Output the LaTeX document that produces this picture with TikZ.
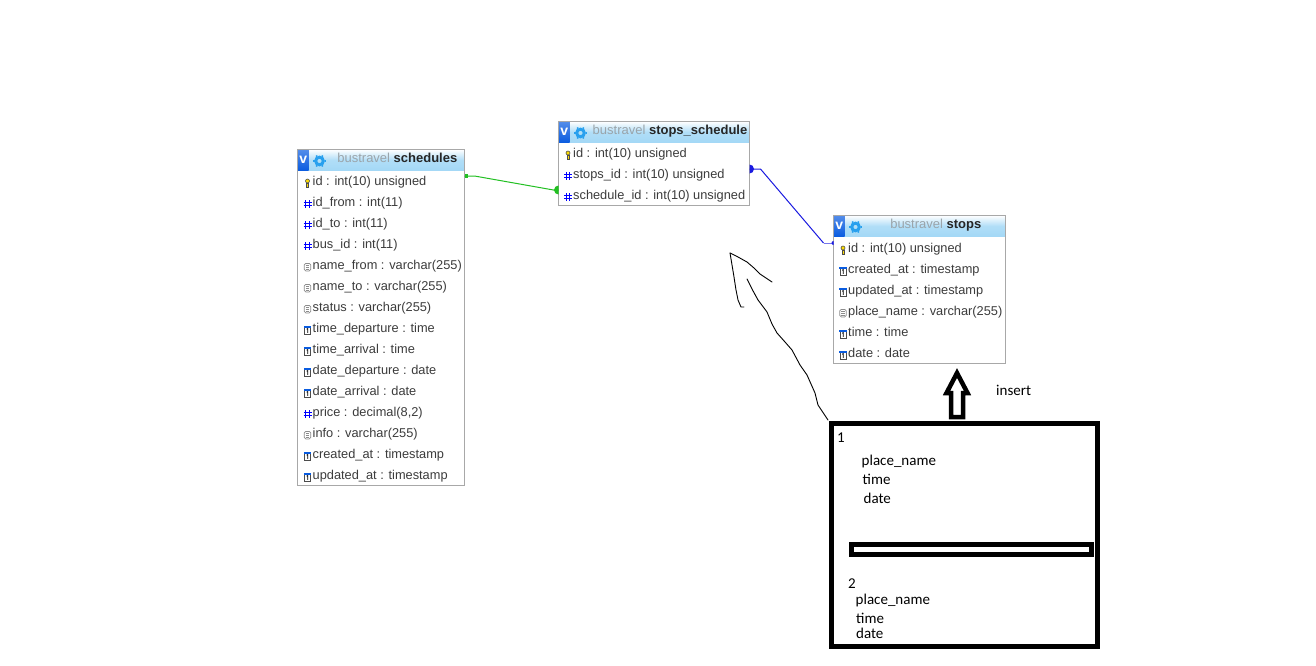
\documentclass[tikz,border=0pt]{standalone}
\usepackage{fontspec}
\setmainfont{Liberation Sans}
\newfontfamily\handfont{Carlito}
\usetikzlibrary{arrows.meta}
\definecolor{tblborder}{HTML}{A8A8A8}
\definecolor{rowtext}{HTML}{3C3C3C}
\definecolor{headgrey}{HTML}{9AA4AA}
\definecolor{headblue}{HTML}{A3D8F6}
\definecolor{iconblue}{HTML}{0A5CE0}
\definecolor{gearblue}{HTML}{28A0EE}
\definecolor{linkgreen}{HTML}{22C022}
\definecolor{linkblue}{HTML}{1A1AE0}
\tikzset{
  x=1pt,y=-1pt,
  tablebox/.style={draw=tblborder,line width=1pt,fill=white,minimum width=#1,inner sep=0pt,outer sep=0pt},
  rowlabel/.style={anchor=base west,inner sep=0pt,font=\fontsize{12.8}{12.8}\selectfont,text=rowtext},
  headlabel/.style={anchor=base east,inner sep=0pt,font=\fontsize{13}{13}\selectfont,text=black!85},
  handlabel/.style={anchor=base west,inner sep=0pt,font=\handfont\fontsize{15}{15}\selectfont,text=black},
  scrawl/.style={draw=black,line width=0.9pt,line join=round,line cap=round},
  thickbox/.style={draw=black,line width=5pt,fill=none},
  pics/hashicon/.style={code={
    \draw[blue,line width=1.1pt] (-1.7,-4)--(-1.7,4) (1.7,-4)--(1.7,4) (-4,-1.7)--(4,-1.7) (-4,1.7)--(4,1.7);}},
  pics/keyicon/.style={code={
    \draw[black!70,fill=yellow!80!orange,line width=0.6pt] (0,-2) circle (2);
    \draw[black!70,fill=yellow!80!orange,line width=0.6pt] (-1,0) rectangle (1,4);}},
  pics/texticon/.style={code={
    \draw[gray!90,line width=0.7pt,rounded corners=1.5pt,fill=white] (-3.2,-3.6) rectangle (3.2,4);
    \draw[gray!90,line width=0.5pt] (-1.6,-1.6)--(1.6,-1.6) (-1.6,0.2)--(1.6,0.2) (-1.6,2)--(1.6,2);}},
  pics/timeicon/.style={code={
    \draw[black!70,line width=0.6pt,fill=white] (-3.2,-3.4) rectangle (3.2,4);
    \fill[iconblue] (-3.6,-4) rectangle (3.6,-2.2);
    \draw[black,line width=0.8pt] (-0.8,-0.8)--(0.2,-1.4)--(0.2,2.8);}},
  pics/gearicon/.style={code={
    \draw[gearblue,line width=3pt] (0,0) circle (3.8);
    \foreach \a in {0,60,...,300}{\draw[gearblue,line width=1.6pt] (\a:5)--(\a:6.4);}}}
}
% #1 name, #2 left, #3 top, #4 right, #5 bottom, #6 header right, #7 table
\newcommand{\dbtable}[7]{
  \node[tablebox=#4pt-#2pt,minimum height=#5pt-#3pt,anchor=north west] (#1) at (#2,#3) {};
  \shade[top color=white,bottom color=headblue,middle color=headblue!85] (#2,#3) rectangle (#4,#3+21);
  \shade[top color=iconblue!70,bottom color=iconblue] (#2,#3) rectangle (#2+11,#3+21);
  \node[inner sep=0pt,text=white,font=\bfseries\fontsize{14}{14}\selectfont] (#1v) at (#2+5.8,#3+10.5) {v};
  \pic at (#2+22,#3+11.5) {gearicon};
  \node[headlabel] (#1h) at (#6,#3+13) {\textcolor{headgrey}{bustravel} \textbf{#7}};
  \draw[tblborder,line width=1pt] (#1.north west) rectangle (#1.south east);
}
% #1 icon, #2 x icon, #3 y, #4 text
\newcommand{\dbrow}[4]{
  \pic at (#2,#3+2) {#1};
  \node[rowlabel] at (#2+5,#3+4.5) {#4};
}
\begin{document}
\begin{tikzpicture}
\useasboundingbox (0,0) rectangle (1316,666);
\fill[white] (0,0) rectangle (1316,666);

% schedules
\dbtable{sch}{297.5}{149.5}{464.5}{485.5}{457.5}{schedules}
\dbrow{keyicon}{307.5}{181}{id : int(10) unsigned}
\dbrow{hashicon}{307.5}{202}{id\_from : int(11)}
\dbrow{hashicon}{307.5}{223}{id\_to : int(11)}
\dbrow{hashicon}{307.5}{244}{bus\_id : int(11)}
\dbrow{texticon}{307.5}{265}{name\_from : varchar(255)}
\dbrow{texticon}{307.5}{286}{name\_to : varchar(255)}
\dbrow{texticon}{307.5}{307}{status : varchar(255)}
\dbrow{timeicon}{307.5}{328}{time\_departure : time}
\dbrow{timeicon}{307.5}{349}{time\_arrival : time}
\dbrow{timeicon}{307.5}{370}{date\_departure : date}
\dbrow{timeicon}{307.5}{391}{date\_arrival : date}
\dbrow{hashicon}{307.5}{412}{price : decimal(8,2)}
\dbrow{texticon}{307.5}{433}{info : varchar(255)}
\dbrow{timeicon}{307.5}{454}{created\_at : timestamp}
\dbrow{timeicon}{307.5}{475}{updated\_at : timestamp}

% stops_schedule
\dbtable{sts}{558.5}{121.5}{749.5}{205.5}{747.5}{stops\_schedule}
\dbrow{keyicon}{568}{153}{id : int(10) unsigned}
\dbrow{hashicon}{568}{174}{stops\_id : int(10) unsigned}
\dbrow{hashicon}{568}{195}{schedule\_id : int(10) unsigned}

% stops
\dbtable{stp}{833.5}{215.5}{1005.5}{363.5}{981.5}{stops}
\dbrow{keyicon}{843}{248}{id : int(10) unsigned}
\dbrow{timeicon}{843}{269}{created\_at : timestamp}
\dbrow{timeicon}{843}{290}{updated\_at : timestamp}
\dbrow{texticon}{843}{311}{place\_name : varchar(255)}
\dbrow{timeicon}{843}{332}{time : time}
\dbrow{timeicon}{843}{353}{date : date}

% connectors
\coordinate (schA) at (sch.north east |- 0,176);
\coordinate (stsA) at (sts.north west |- 0,190);
\coordinate (stsB) at (sts.north east |- 0,169);
\coordinate (stpA) at (stp.north west |- 0,243);
\draw[linkgreen,line width=1pt] (schA) -- ++(10,0) -- ([xshift=-5pt]stsA) -- (stsA);
\fill[linkgreen] ([yshift=-2pt]schA) rectangle ([xshift=3.5pt,yshift=2pt]schA);
\fill[linkgreen] ([yshift=4.5pt]stsA) arc[start angle=90,end angle=270,radius=4.5pt] -- cycle;
\draw[linkblue,line width=1pt] (stsB) -- ++(11,0) -- ([xshift=-10pt]stpA);
\draw[linkblue!60,line width=1pt] ([xshift=-10pt]stpA) -- (stpA);
\fill[linkblue] ([yshift=4.5pt]stsB) arc[start angle=90,end angle=-90,radius=4.5pt] -- cycle;
\fill[linkblue] ([yshift=2pt]stpA) arc[start angle=90,end angle=270,radius=2pt] -- cycle;

% big box
\node[thickbox,minimum width=266pt,minimum height=223pt,anchor=north west,inner sep=0pt,outer sep=0pt] (box) at (831.5,423.5) {};
\node[thickbox,minimum width=240pt,minimum height=10pt,anchor=north west,inner sep=0pt,outer sep=0pt] (bar) at (851.5,544.5) {};

% handwritten arrow
\coordinate (tipA) at (730,253);
\draw[scrawl] (tipA) -- (738,257) -- (747,262) -- (754,268) -- (760,274) -- (772,282);
\draw[scrawl] (tipA) -- (732,265) -- (734,277) -- (736,290) -- (738,300) -- (741,307) -- (744,307);
\draw[scrawl] (747,279) -- (752,289) -- (758,300) -- (767,312) -- (772,324) -- (777,333) -- (785,342) -- (792,350) -- (800,365) -- (807,375) -- (815,393) -- (818,405) -- (828,420);

% block arrow
\draw[draw=black,line width=4.5pt,fill=white,line join=miter]
  (957,373) -- (946.5,393) -- (951,393) -- (951,417) -- (963,417) -- (963,393) -- (967.5,393) -- cycle;

% hand texts
\node[handlabel] at (996,395) {insert};
\node[handlabel] at (837,442) {1};
\node[handlabel] at (861.5,465) {place\_name};
\node[handlabel] at (862.5,484) {time};
\node[handlabel] at (863.5,503) {date};
\node[handlabel] at (848,588) {2};
\node[handlabel] at (855.5,604) {place\_name};
\node[handlabel] at (856,623) {time};
\node[handlabel] at (856,638) {date};
\end{tikzpicture}
\end{document}
